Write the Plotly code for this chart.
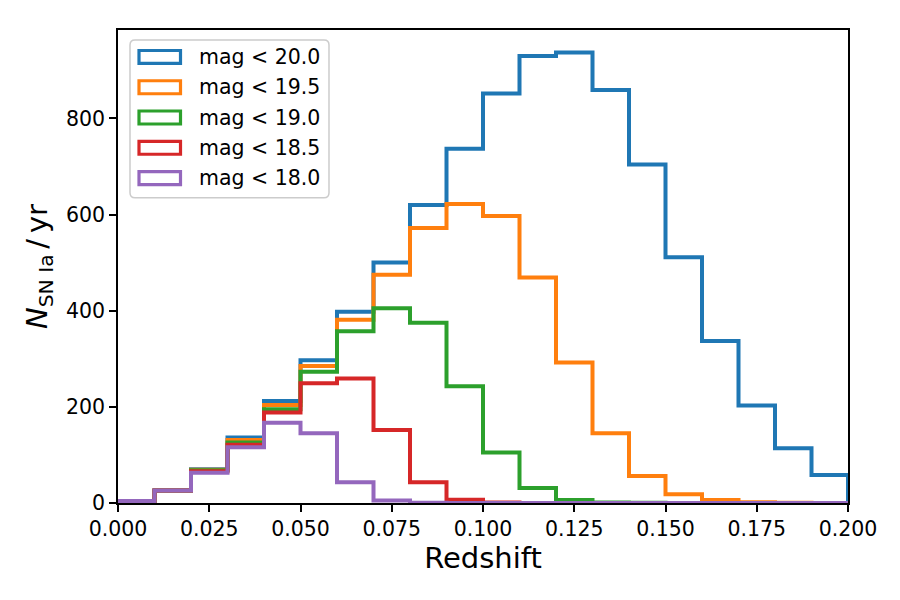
import plotly.graph_objects as go

# ---------------- data ----------------
bin_edges = [round(0.01 * i, 2) for i in range(21)]  # redshift bin edges 0.00 .. 0.20

labels = ["mag < 20.0", "mag < 19.5", "mag < 19.0", "mag < 18.5", "mag < 18.0"]
colors = ["#1f77b4", "#ff7f0e", "#2ca02c", "#d62728", "#9467bd"]

counts_mag200 = [4, 26, 70, 136, 212, 297, 398, 500, 620, 737, 852, 930, 937, 859, 704, 511, 337, 203, 114, 58]
counts_mag195 = [4, 26, 69, 131, 204, 285, 381, 475, 572, 622, 597, 469, 292, 145, 56, 18, 6, 1.5, 0.5, 0.2]
counts_mag190 = [4, 26, 68, 126, 195, 273, 357, 405, 375, 243, 105, 31, 6, 1, 0.3, 0, 0, 0, 0, 0]
counts_mag185 = [4, 26, 66, 121, 188, 249, 259, 152, 43, 7, 1, 0.2, 0, 0, 0, 0, 0, 0, 0, 0]
counts_mag180 = [4, 26, 63, 116, 167, 145, 43, 5, 0.5, 0, 0, 0, 0, 0, 0, 0, 0, 0, 0, 0]

series = [counts_mag200, counts_mag195, counts_mag190, counts_mag185, counts_mag180]

x_ticks = [0.0, 0.025, 0.05, 0.075, 0.1, 0.125, 0.15, 0.175, 0.2]
y_ticks = [0, 200, 400, 600, 800]

# ---------------- layout constants ----------------
W, H = 900, 600
L, R, T, B = 118, 52, 30, 96.5
PW, PH = W - L - R, H - T - B
FONT = "DejaVu Sans"
TICK_SIZE = 20.5
LABEL_SIZE = 29
LW = 4


def px_to_paper(px, py):
    return (px - L) / PW, (H - B - py) / PH


fig = go.Figure()

for lab, col, counts in zip(labels, colors, series):
    xs = [bin_edges[0]] + bin_edges[:-1] + [bin_edges[-1], bin_edges[-1]]
    ys = [0] + counts + [counts[-1], 0]
    fig.add_trace(go.Scatter(
        x=xs, y=ys, mode="lines", name=lab,
        line=dict(color=col, width=LW, shape="hv"),
        showlegend=False, hoverinfo="skip",
    ))

ymax = max(counts_mag200) * 1.05

# ---------------- custom legend (matplotlib style patches) ----------------
shapes = []
annotations = []


def rounded_rect(x0, y0, x1, y1, r):
    # pixel coordinates -> paper path with rounded corners
    def P(px, py):
        a, b = px_to_paper(px, py)
        return f"{a:.5f},{b:.5f}"
    return (f"M {P(x0 + r, y0)} L {P(x1 - r, y0)} Q {P(x1, y0)} {P(x1, y0 + r)} "
            f"L {P(x1, y1 - r)} Q {P(x1, y1)} {P(x1 - r, y1)} "
            f"L {P(x0 + r, y1)} Q {P(x0, y1)} {P(x0, y1 - r)} "
            f"L {P(x0, y0 + r)} Q {P(x0, y0)} {P(x0 + r, y0)} Z")


shapes.append(dict(
    type="path", xref="paper", yref="paper", layer="above",
    path=rounded_rect(130, 40, 329, 198, 5),
    line=dict(color="#cccccc", width=1.5), fillcolor="rgba(255,255,255,0.8)",
))

row_y0 = 57.0
row_dy = 30.3
for i, (lab, col) in enumerate(zip(labels, colors)):
    cy = row_y0 + i * row_dy
    x0, y0 = px_to_paper(139, cy - 6.5)
    x1, y1 = px_to_paper(180.5, cy + 6.5)
    shapes.append(dict(
        type="rect", xref="paper", yref="paper", layer="above",
        x0=x0, x1=x1, y0=y1, y1=y0,
        line=dict(color=col, width=3.2), fillcolor="rgba(0,0,0,0)",
    ))
    tx, ty = px_to_paper(197, cy)
    annotations.append(dict(
        xref="paper", yref="paper", x=tx, y=ty, xanchor="left", yanchor="middle",
        text=lab, showarrow=False, font=dict(family=FONT, size=TICK_SIZE, color="black"),
    ))

fig.update_layout(
    width=W, height=H,
    margin=dict(l=L, r=R, t=T, b=B),
    paper_bgcolor="white", plot_bgcolor="white",
    font=dict(family=FONT, size=TICK_SIZE, color="black"),
    showlegend=False,
    shapes=shapes, annotations=annotations,
    xaxis=dict(
        range=[0, 0.2], tickvals=x_ticks, ticktext=[f"{v:.3f}" for v in x_ticks],
        ticks="outside", ticklen=7, tickwidth=1.7, tickcolor="black",
        showline=True, linecolor="black", linewidth=1.7, mirror=True,
        showgrid=False, zeroline=False,
        tickfont=dict(family=FONT, size=TICK_SIZE, color="black"),
        title=dict(text="Redshift", font=dict(family=FONT, size=LABEL_SIZE, color="black"), standoff=7),
    ),
    yaxis=dict(
        range=[0, ymax], tickvals=y_ticks,
        ticks="outside", ticklen=7, tickwidth=1.7, tickcolor="black",
        showline=True, linecolor="black", linewidth=1.7, mirror=True,
        showgrid=False, zeroline=False,
        tickfont=dict(family=FONT, size=TICK_SIZE, color="black"),
        title=dict(text="<i>N</i><sub>SN Ia</sub>\u2009/\u2009yr",
                   font=dict(family=FONT, size=LABEL_SIZE, color="black"), standoff=10),
    ),
)

fig.write_html("out.html")
